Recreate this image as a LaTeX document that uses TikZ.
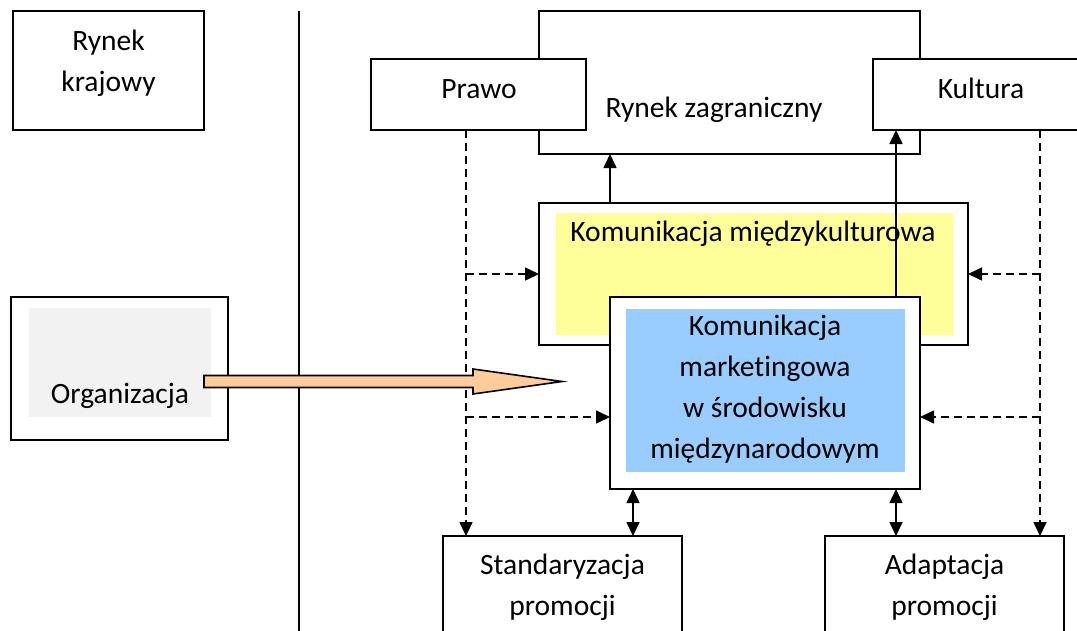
\documentclass[tikz,border=0pt]{standalone}
\usepackage{fontspec}
\setmainfont{Carlito}[Ligatures=NoCommon]
\usetikzlibrary{arrows.meta,positioning}
\definecolor{yel}{HTML}{FFFF99}
\definecolor{blu}{HTML}{99CCFF}
\definecolor{gry}{HTML}{F2F2F2}
\definecolor{peach}{HTML}{FFCC99}
\begin{document}
\begin{tikzpicture}[x=1pt,y=-1pt,
  lw/.style={line width=1.6pt},
  box/.style={draw,lw,fill=white,inner sep=0pt,outer sep=0pt},
  txt/.style={inner sep=0pt,align=center,anchor=base},
  tip/.style={-{Triangle[length=14pt,width=13pt]}},
  dtip/.style={{Triangle[length=14pt,width=13pt]}-{Triangle[length=14pt,width=13pt]}},
  dsh/.style={lw,dash pattern=on 8pt off 5pt},
  font=\fontsize{29.5}{40.7}\selectfont]
\clip (0,0) rectangle (1077,630);
\fill[white] (0,0) rectangle (1077,630);
% left side
\node[box,minimum width=191pt,minimum height=119pt] (rk) at (108.5,70.5) {};
\node[txt] (rkt) at (108.5,91) {Rynek\\krajowy};
\draw[lw] (299,11) -- (299,640);
\node[box,minimum width=217pt,minimum height=143pt] (org) at (119.5,368.5) {};
\fill[gry] (29,308) rectangle (211,417);
\node[txt] (orgt) at (120,403) {Organizacja};
% top
\node[box,minimum width=381pt,minimum height=143pt] (rz) at (729.5,82.5) {};
\node[txt] (rzt) at (714,117) {Rynek zagraniczny};
\node[box,minimum width=215pt,minimum height=71pt] (pr) at (478.5,94.5) {};
\node[txt] (prt) at (479,98) {Prawo};
\node[box,minimum width=220pt,minimum height=71pt] (ku) at (983,94.5) {};
\node[txt] (kut) at (981,98) {Kultura};
% komunikacja miedzykulturowa
\node[box,minimum width=429pt,minimum height=142pt] (km) at (753.5,274) {};
\fill[yel] (556,213) rectangle (953,335);
\node[txt] (kmt) at (753,241) {Komunikacja międzykulturowa};
% marketing
\node[box,minimum width=310pt,minimum height=192pt] (mk) at (765,393) {};
\fill[blu] (626,309) rectangle (905,472);
\node[txt] (mkt) at (765,458) {Komunikacja\\marketingowa\\w środowisku\\międzynarodowym};
% bottom
\node[box,minimum width=239pt,minimum height=120pt] (st) at (562.5,596) {};
\node[txt] (stt) at (562.5,615) {Standaryzacja\\promocji};
\node[box,minimum width=239pt,minimum height=120pt] (ad) at (944.5,596) {};
\node[txt] (adt) at (944.5,615) {Adaptacja\\promocji};
% coordinates
\coordinate (pl) at (466,0);
\coordinate (kl) at (1040,0);
\coordinate (lo) at (0,417);
\coordinate (la) at (633,0);
\coordinate (ra) at (896,0);
% solid arrows
\draw[lw,tip] (mk.west |- km.north) -- (mk.west |- rz.south);
\draw[lw,tip] (ra |- mk.north) -- (ra |- ku.south);
\draw[lw,dtip] (la |- mk.south) -- (la |- st.north);
\draw[lw,dtip] (ra |- mk.south) -- (ra |- ad.north);
% dashed
\draw[dsh,tip] (pl |- pr.south) -- (pl |- st.north);
\draw[dsh,tip] (pl |- km.west) -- (km.west);
\draw[dsh,tip] (pl |- lo) -- (mk.west |- lo);
\draw[dsh,tip] (kl |- ku.south) -- (kl |- ad.north);
\draw[dsh,tip] (kl |- km.east) -- (km.east);
\draw[dsh,tip] (kl |- lo) -- (mk.east |- lo);
% big orange arrow
\draw[lw,fill=peach,line join=miter] (204,375.5) -- (473,375.5) -- (473,369) -- (562,381.5) -- (473,394) -- (473,387.5) -- (204,387.5) -- cycle;
\end{tikzpicture}
\end{document}
